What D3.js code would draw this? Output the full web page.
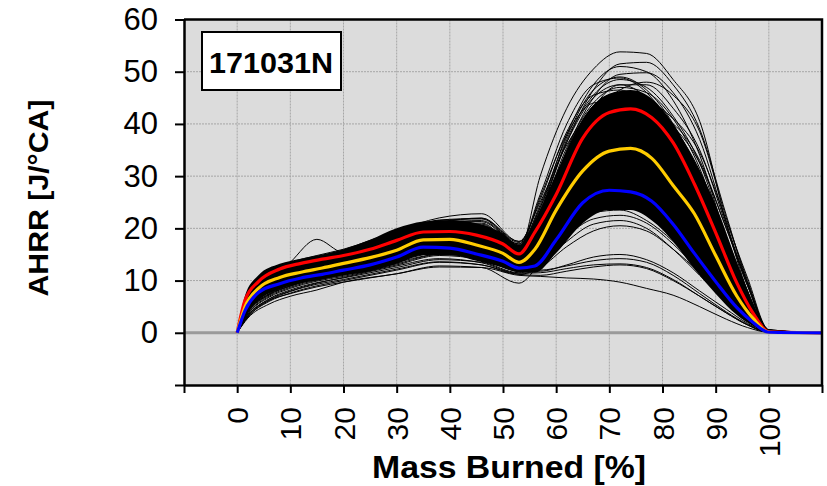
<!DOCTYPE html>
<html>
<head>
<meta charset="utf-8">
<script src="https://cdn.jsdelivr.net/npm/d3@7"></script>
<style>
  body { margin: 0; background: #fff; }
  text { font-family: "Liberation Sans", Arial, sans-serif; }
</style>
</head>
<body>
<div id="chart"></div>
<script>
// Tick values and labels
const xTickValues = [-10, 0, 10, 20, 30, 40, 50, 60, 70, 80, 90, 100, 110];
const xTickLabels = ["", "0", "10", "20", "30", "40", "50", "60", "70", "80", "90", "100", ""];
const yTickValues = [-10, 0, 10, 20, 30, 40, 50, 60];
const yTickLabels = ["", "0", "10", "20", "30", "40", "50", "60"];

// Mean and +/- std curves (fine x grid)
const xFine = [0, 1.5, 4, 8, 12, 16, 20, 25, 30, 35, 40, 45, 50, 53, 56, 60, 65, 70, 74, 78, 82, 86, 90, 94, 97, 100, 110];
const redLine = [0, 6.3, 9.8, 12.2, 13.3, 14.1, 14.8, 16.0, 17.7, 19.3, 19.4, 18.7, 17.0, 15.1, 19.3, 26.5, 37.3, 42.2, 42.9, 41.2, 36.4, 28.5, 19.2, 9.5, 3.8, 0.2, 0];
const yellowLine = [0, 5.0, 8.5, 10.6, 11.6, 12.4, 13.3, 14.4, 15.8, 17.8, 17.9, 16.8, 15.2, 13.5, 16.0, 23.5, 31.0, 34.8, 35.3, 33.4, 28.2, 22.8, 14.8, 7.0, 2.8, 0.1, 0];
const blueLine = [0, 4.3, 7.7, 9.4, 10.5, 11.2, 12.0, 13.0, 14.5, 16.4, 16.2, 15.1, 13.7, 12.4, 12.8, 17.8, 24.9, 27.3, 27.0, 25.2, 20.8, 15.2, 9.8, 4.8, 2.0, 0.1, 0];

// Dense band where the individual cycles overlap completely
const bandHigh = [0, 7.2, 11.0, 13.2, 14.2, 15.0, 16.0, 17.8, 20.0, 21.3, 21.6, 21.0, 19.0, 16.8, 21.5, 30.5, 41.0, 45.8, 46.5, 44.8, 40.0, 33.0, 24.5, 13.5, 5.8, 0.3, 0];
const bandLow = [0, 3.4, 6.2, 8.4, 9.5, 10.2, 11.0, 11.8, 13.2, 14.9, 14.9, 13.8, 12.5, 11.6, 11.5, 15.3, 21.0, 23.5, 23.5, 21.5, 17.5, 12.2, 7.5, 3.4, 1.3, 0, 0];

// Individual cycles (coarse x grid)
const xCycle = [0, 2, 6, 10, 15, 20, 30, 38, 46, 53, 57, 62, 67, 72, 77, 82, 87, 92, 96, 100, 110];
const cycles = [
  [0, 5.5, 9.8, 12.0, 13.6, 14.8, 17.8, 20.0, 19.5, 15.8, 30.0, 43.0, 50.5, 53.8, 53.5, 48.5, 40.5, 21.0, 8.0, 0.5, 0],
  [0, 6.0, 10.2, 12.5, 14.0, 15.0, 18.2, 20.5, 20.5, 16.5, 24.0, 38.0, 47.5, 51.0, 50.0, 44.5, 34.0, 18.0, 7.0, 0.4, 0],
  [0, 5.0, 9.0, 11.2, 12.8, 14.2, 17.0, 19.0, 18.5, 14.8, 21.0, 35.0, 45.0, 49.5, 49.8, 46.0, 37.0, 21.0, 9.5, 0.6, 0],
  [0, 6.5, 10.8, 13.0, 14.5, 15.5, 18.8, 21.5, 21.8, 17.0, 26.5, 40.0, 47.5, 48.8, 46.0, 39.0, 28.5, 15.0, 6.0, 0.3, 0],
  [0, 5.2, 9.2, 11.5, 13.0, 14.6, 17.4, 19.6, 19.8, 15.5, 20.0, 31.5, 41.5, 46.5, 48.0, 45.5, 38.5, 22.0, 10.0, 0.5, 0],
  [0, 5.8, 10.0, 12.2, 13.8, 14.9, 18.0, 20.8, 21.0, 16.0, 22.5, 35.5, 44.0, 47.0, 46.0, 41.0, 31.5, 17.0, 7.0, 0.4, 0],
  [0, 5.4, 9.6, 11.8, 13.4, 14.7, 17.6, 19.8, 20.2, 16.2, 23.5, 36.5, 46.5, 51.5, 51.8, 47.5, 39.0, 22.5, 9.5, 0.5, 0],
  [0, 6.2, 10.5, 12.6, 14.2, 15.2, 18.5, 21.0, 22.0, 17.5, 22.0, 33.0, 41.0, 44.5, 43.5, 38.5, 30.0, 17.5, 7.5, 0.4, 0],
  [0, 4.8, 8.8, 11.0, 12.6, 13.8, 16.5, 18.6, 17.8, 14.0, 18.5, 30.0, 39.5, 43.5, 43.0, 39.5, 32.5, 20.0, 9.0, 0.5, 0],
  [0, 5.6, 9.9, 12.0, 13.6, 14.8, 17.9, 20.2, 20.8, 16.0, 21.0, 32.0, 40.0, 42.0, 40.5, 35.0, 26.5, 15.0, 5.8, 0.3, 0],
  [0, 3.2, 6.5, 8.2, 9.6, 10.5, 12.5, 14.0, 13.5, 11.5, 13.0, 17.5, 20.8, 21.5, 20.0, 16.0, 11.0, 6.0, 2.3, 0.1, 0],
  [0, 3.8, 7.2, 8.9, 10.3, 11.2, 13.5, 15.0, 14.3, 11.8, 13.2, 18.5, 21.8, 22.5, 21.0, 17.0, 11.8, 6.5, 2.5, 0.1, 0],
  [0, 4.0, 7.5, 9.2, 10.6, 11.5, 14.0, 15.6, 15.0, 12.5, 14.0, 19.5, 23.0, 23.5, 21.5, 17.5, 12.0, 6.5, 2.6, 0.1, 0],
  [0, 4.2, 7.8, 9.5, 10.9, 11.8, 14.2, 16.0, 15.5, 12.8, 15.0, 21.0, 24.5, 25.0, 23.0, 18.5, 12.5, 7.0, 2.8, 0.1, 0],
  [0, 3.6, 7.0, 8.7, 10.1, 11.0, 13.2, 15.0, 14.5, 12.2, 14.5, 21.5, 25.5, 26.0, 24.5, 20.0, 14.0, 8.0, 3.0, 0.1, 0],
  [0, 3.0, 6.2, 7.9, 9.3, 10.2, 12.2, 13.6, 13.0, 11.2, 12.5, 16.5, 19.5, 20.5, 19.5, 16.0, 11.5, 6.5, 2.5, 0.1, 0],
  [0, 3.5, 6.8, 8.5, 9.9, 10.8, 13.0, 14.8, 14.0, 11.8, 11.8, 13.0, 14.5, 15.0, 14.0, 11.5, 8.0, 4.5, 1.8, 0.1, 0],
  [0, 4.0, 7.4, 9.0, 10.5, 11.4, 13.8, 15.5, 14.6, 12.0, 12.0, 12.8, 13.8, 14.2, 13.5, 11.0, 7.5, 4.0, 1.6, 0.1, 0],
  [0, 3.3, 6.4, 8.0, 9.5, 10.6, 12.8, 14.2, 13.4, 11.4, 11.5, 12.3, 13.0, 13.2, 12.5, 10.2, 7.0, 3.8, 1.5, 0.1, 0],
  [0, 3.0, 6.0, 7.6, 9.0, 10.0, 12.0, 13.5, 13.0, 11.2, 11.0, 11.8, 12.6, 13.0, 12.3, 10.0, 7.0, 3.8, 1.5, 0.1, 0],
  [0, 3.2, 6.2, 7.5, 8.8, 9.7, 11.3, 12.6, 12.5, 11.0, 10.8, 10.5, 10.3, 9.7, 8.5, 7.2, 5.0, 2.6, 1.0, 0.1, 0],
  [0, 4.5, 9.5, 13.5, 17.9, 15.4, 17.0, 19.0, 18.2, 14.6, 19.0, 28.0, 35.0, 37.5, 36.0, 31.0, 23.5, 13.0, 5.0, 0.2, 0],
  [0, 2.8, 5.5, 7.0, 8.2, 9.7, 11.3, 12.8, 12.5, 9.5, 13.5, 21.0, 26.0, 28.0, 27.0, 23.0, 16.5, 9.0, 3.5, 0.1, 0],
  [0, 6.8, 11.2, 13.4, 14.8, 16.0, 19.5, 22.0, 22.8, 17.5, 25.0, 36.0, 42.0, 43.0, 40.0, 33.0, 24.0, 13.0, 5.0, 0.2, 0],
  [0, 5.0, 9.0, 11.0, 12.5, 13.5, 16.5, 18.5, 18.0, 14.5, 17.0, 26.0, 35.0, 40.5, 42.0, 40.0, 33.0, 20.0, 9.5, 0.5, 0],
  [0, 6.0, 10.5, 12.2, 13.5, 14.5, 18.5, 20.5, 20.0, 16.5, 26.0, 38.0, 44.0, 44.5, 40.0, 32.0, 22.0, 11.0, 4.0, 0.2, 0],
  [0, 4.4, 8.0, 9.8, 11.2, 12.2, 14.8, 16.8, 16.0, 13.0, 16.0, 24.0, 29.0, 30.5, 29.0, 24.5, 17.5, 9.5, 3.8, 0.2, 0],
  [0, 4.6, 8.4, 10.3, 11.8, 12.8, 15.4, 17.4, 16.8, 13.5, 17.5, 27.0, 32.5, 33.5, 31.5, 26.5, 19.0, 10.5, 4.2, 0.2, 0],
  [0, 5.3, 9.4, 11.6, 13.1, 14.3, 17.2, 19.3, 19.0, 15.2, 19.5, 30.0, 39.0, 43.5, 44.0, 41.0, 34.5, 21.5, 10.5, 0.6, 0],
  [0, 5.9, 10.3, 12.4, 13.9, 15.0, 18.3, 21.0, 21.5, 17.0, 24.0, 36.5, 45.0, 47.5, 45.0, 38.0, 28.0, 15.5, 6.5, 0.3, 0],
  [0, 5.7, 10.0, 12.3, 13.9, 15.0, 18.2, 20.6, 20.6, 16.3, 23.0, 37.0, 45.5, 48.5, 47.0, 41.5, 32.5, 18.0, 7.5, 0.4, 0],
  [0, 5.1, 9.1, 11.4, 13.0, 14.4, 17.3, 19.4, 19.4, 15.3, 20.5, 33.0, 43.0, 47.5, 47.5, 43.0, 35.0, 20.5, 9.0, 0.5, 0],
  [0, 6.3, 10.6, 12.8, 14.3, 15.4, 18.9, 21.6, 21.9, 17.3, 25.5, 38.5, 45.5, 46.5, 43.0, 36.0, 26.0, 14.0, 5.5, 0.3, 0],
  [0, 4.3, 7.9, 9.7, 11.0, 12.0, 14.5, 16.4, 15.8, 12.9, 15.5, 22.5, 27.0, 27.5, 25.5, 21.0, 14.5, 7.5, 3.0, 0.1, 0],
  [0, 4.5, 8.2, 10.0, 11.5, 12.5, 15.0, 17.0, 16.4, 13.2, 16.5, 24.5, 29.0, 29.5, 27.0, 22.0, 15.5, 8.5, 3.4, 0.2, 0],
  [0, 3.9, 7.3, 9.0, 10.4, 11.3, 13.7, 15.3, 14.8, 12.3, 14.2, 20.5, 24.0, 24.5, 23.0, 19.0, 13.5, 7.5, 2.8, 0.1, 0],
  [0, 5.5, 9.7, 11.9, 13.5, 14.7, 17.7, 19.9, 20.0, 16.0, 22.0, 34.5, 43.5, 46.0, 44.5, 39.5, 31.0, 18.5, 8.0, 0.4, 0],
  [0, 5.9, 10.2, 12.4, 14.0, 15.1, 18.4, 21.2, 21.3, 16.8, 24.5, 37.5, 46.5, 49.0, 46.5, 40.0, 30.0, 16.5, 6.5, 0.3, 0]
];

const width = 827, height = 486;
const plot = { left: 184, right: 822, top: 19.5, bottom: 385 };

const svg = d3.select("#chart")
  .append("svg")
  .attr("width", width)
  .attr("height", height);

// Scales
const x = d3.scaleLinear().domain([-10, 110]).range([plot.left, plot.right]);
const y = d3.scaleLinear().domain([-10, 60]).range([plot.bottom, plot.top]);

// Plot background
svg.append("rect")
  .attr("x", plot.left).attr("y", plot.top)
  .attr("width", plot.right - plot.left)
  .attr("height", plot.bottom - plot.top)
  .attr("fill", "#dcdcdc");

svg.append("clipPath").attr("id", "clip")
  .append("rect")
  .attr("x", plot.left).attr("y", plot.top)
  .attr("width", plot.right - plot.left)
  .attr("height", plot.bottom - plot.top);

// Grid lines
const grid = svg.append("g");
grid.selectAll(".vgrid")
  .data(xTickValues.filter(v => v > -10 && v < 110))
  .enter().append("line")
  .attr("x1", d => x(d)).attr("x2", d => x(d))
  .attr("y1", plot.top).attr("y2", plot.bottom)
  .attr("stroke", "#a6a6a6").attr("stroke-width", 1)
  .attr("stroke-dasharray", "2,1");
grid.selectAll(".hgrid")
  .data(yTickValues.filter(v => v > 0 && v < 60))
  .enter().append("line")
  .attr("x1", plot.left).attr("x2", plot.right)
  .attr("y1", d => y(d)).attr("y2", d => y(d))
  .attr("stroke", "#a6a6a6").attr("stroke-width", 1)
  .attr("stroke-dasharray", "2,1");
grid.append("line")
  .attr("x1", plot.left).attr("x2", plot.right)
  .attr("y1", y(0)).attr("y2", y(0))
  .attr("stroke", "#9a9a9a").attr("stroke-width", 3);

const curves = svg.append("g").attr("clip-path", "url(#clip)");

// Dense band
const band = d3.area()
  .x((d, i) => x(xFine[i]))
  .y0((d, i) => y(bandLow[i]))
  .y1(d => y(d))
  .curve(d3.curveMonotoneX);
curves.append("path")
  .datum(bandHigh)
  .attr("d", band)
  .attr("fill", "#000");

// Individual cycles
const cycleLine = d3.line()
  .x((d, i) => x(xCycle[i]))
  .y(d => y(d))
  .curve(d3.curveMonotoneX);
curves.selectAll(".cycle")
  .data(cycles)
  .enter().append("path")
  .attr("class", "cycle")
  .attr("d", cycleLine)
  .attr("fill", "none")
  .attr("stroke", "#000")
  .attr("stroke-width", 1);

// Mean and std lines
const fineLine = d3.line()
  .x((d, i) => x(xFine[i]))
  .y(d => y(d))
  .curve(d3.curveMonotoneX);
[[redLine, "#ff0000"], [yellowLine, "#ffcc00"], [blueLine, "#0000ff"]].forEach(([vals, col]) => {
  curves.append("path")
    .datum(vals)
    .attr("d", fineLine)
    .attr("fill", "none")
    .attr("stroke", col)
    .attr("stroke-width", 3.2)
    .attr("stroke-linejoin", "round");
});

// Frame (top and right)
svg.append("path")
  .attr("d", `M${plot.left},${plot.top}H${plot.right}V${plot.bottom}`)
  .attr("fill", "none")
  .attr("stroke", "#000")
  .attr("stroke-width", 2.5);

// Axes
const yAxis = svg.append("g")
  .attr("transform", `translate(${plot.left},0)`)
  .call(d3.axisLeft(y)
    .tickValues(yTickValues)
    .tickFormat((d, i) => yTickLabels[i])
    .tickSize(9)
    .tickSizeOuter(0)
    .tickPadding(17));
yAxis.select(".domain").attr("stroke-width", 2.5);
yAxis.selectAll(".tick line").attr("stroke-width", 2);
yAxis.selectAll("text")
  .attr("font-size", 31)
  .attr("font-family", "Liberation Sans, Arial, sans-serif")
  .attr("fill", "#000");

const xAxis = svg.append("g")
  .attr("transform", `translate(0,${plot.bottom})`)
  .call(d3.axisBottom(x)
    .tickValues(xTickValues)
    .tickFormat((d, i) => xTickLabels[i])
    .tickSize(8)
    .tickSizeOuter(0));
xAxis.select(".domain").attr("stroke-width", 2.5);
xAxis.selectAll(".tick line").attr("stroke-width", 2);
xAxis.selectAll("text")
  .attr("font-size", 30)
  .attr("font-family", "Liberation Sans, Arial, sans-serif")
  .attr("fill", "#000")
  .attr("text-anchor", "end")
  .attr("transform", "rotate(-90)")
  .attr("x", -22)
  .attr("y", 0)
  .attr("dy", "0.35em");

// Axis titles
svg.append("text")
  .attr("x", 509).attr("y", 478)
  .attr("text-anchor", "middle")
  .attr("font-size", 31)
  .attr("font-weight", "bold")
  .attr("textLength", 274)
  .attr("lengthAdjust", "spacingAndGlyphs")
  .text("Mass Burned [%]");

svg.append("text")
  .attr("transform", "translate(48,198) rotate(-90)")
  .attr("text-anchor", "middle")
  .attr("font-size", 27)
  .attr("font-weight", "bold")
  .attr("textLength", 197)
  .attr("lengthAdjust", "spacingAndGlyphs")
  .text("AHRR [J/°CA]");

// Label box
svg.append("rect")
  .attr("x", 202).attr("y", 32)
  .attr("width", 139).attr("height", 58)
  .attr("fill", "#fff")
  .attr("stroke", "#000")
  .attr("stroke-width", 2);
svg.append("text")
  .attr("x", 271).attr("y", 73)
  .attr("text-anchor", "middle")
  .attr("font-size", 30)
  .attr("font-weight", "bold")
  .attr("textLength", 124)
  .attr("lengthAdjust", "spacingAndGlyphs")
  .text("171031N");
</script>
</body>
</html>
